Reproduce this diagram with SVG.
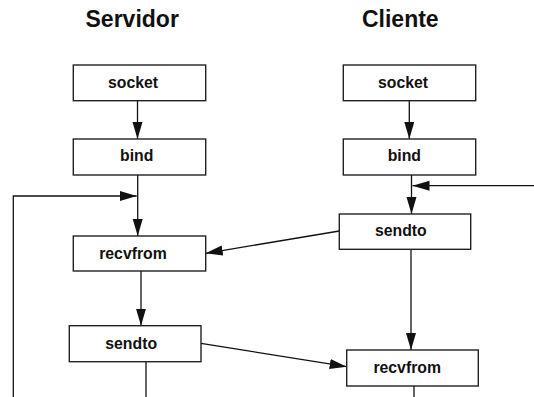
<svg xmlns="http://www.w3.org/2000/svg" width="534" height="397" viewBox="0 0 534 397">
  <style>
    .box { fill: #ffffff; stroke: #222222; stroke-width: 1.4; }
    .label { font-family: "Liberation Sans", Arial, sans-serif; font-weight: bold; font-size: 15.8px; fill: #111111; text-anchor: middle; }
    .title { font-family: "Liberation Sans", Arial, sans-serif; font-weight: bold; font-size: 23px; fill: #111111; text-anchor: middle; }
    .wire { fill: none; stroke: #111111; stroke-width: 1.3; }
  </style>
  <defs>
    <marker id="arrow" markerUnits="userSpaceOnUse" markerWidth="18" markerHeight="11" refX="17" refY="5" orient="auto">
      <path d="M0,0 L17,5 L0,10 Z" fill="#111111"/>
    </marker>
  </defs>

  <rect width="534" height="397" fill="#ffffff"/>

  <!-- column headings -->
  <text class="title" x="132.2" y="26.7">Servidor</text>
  <text class="title" x="400.3" y="26.7">Cliente</text>

  <!-- connectors -->
  <g id="connectors">
    <line class="wire" x1="137.5" y1="100.7" x2="137.5" y2="139" marker-end="url(#arrow)"/>
    <line class="wire" x1="137.7" y1="175" x2="137.7" y2="236" marker-end="url(#arrow)"/>
    <polyline class="wire" points="13.3,397 13.3,196 136.7,196" marker-end="url(#arrow)"/>
    <line class="wire" x1="141" y1="271" x2="141" y2="325.7" marker-end="url(#arrow)"/>
    <line class="wire" x1="146" y1="361.7" x2="146" y2="397"/>

    <line class="wire" x1="409.3" y1="100.7" x2="409.3" y2="139" marker-end="url(#arrow)"/>
    <line class="wire" x1="411.5" y1="175" x2="411.5" y2="214" marker-end="url(#arrow)"/>
    <line class="wire" x1="534" y1="185.7" x2="412.5" y2="185.7" marker-end="url(#arrow)"/>
    <line class="wire" x1="411" y1="249.3" x2="411" y2="350" marker-end="url(#arrow)"/>
    <line class="wire" x1="414" y1="386" x2="414" y2="397"/>

    <line class="wire" x1="339.3" y1="231" x2="205.7" y2="253.3" marker-end="url(#arrow)"/>
    <line class="wire" x1="201" y1="343.3" x2="346.7" y2="366.7" marker-end="url(#arrow)"/>
  </g>

  <!-- server side -->
  <g id="srv-socket">
    <rect class="box" x="73.3" y="65" width="132.4" height="35.7"/>
    <text class="label" x="133" y="88.3">socket</text>
  </g>
  <g id="srv-bind">
    <rect class="box" x="73.3" y="139" width="132.4" height="36"/>
    <text class="label" x="136.7" y="161.3">bind</text>
  </g>
  <g id="srv-recvfrom">
    <rect class="box" x="73.3" y="236" width="132.4" height="35"/>
    <text class="label" x="133" y="258.7">recvfrom</text>
  </g>
  <g id="srv-sendto">
    <rect class="box" x="69.3" y="325.7" width="131.7" height="36"/>
    <text class="label" x="131.2" y="349">sendto</text>
  </g>

  <!-- client side -->
  <g id="cli-socket">
    <rect class="box" x="343.3" y="65" width="132.4" height="35.7"/>
    <text class="label" x="403" y="88.3">socket</text>
  </g>
  <g id="cli-bind">
    <rect class="box" x="343.3" y="139" width="132.4" height="36"/>
    <text class="label" x="404.3" y="161.3">bind</text>
  </g>
  <g id="cli-sendto">
    <rect class="box" x="339.3" y="214" width="131.4" height="35.3"/>
    <text class="label" x="400.8" y="235.7">sendto</text>
  </g>
  <g id="cli-recvfrom">
    <rect class="box" x="346.7" y="350" width="131.6" height="36"/>
    <text class="label" x="407.2" y="372.7">recvfrom</text>
  </g>
</svg>
